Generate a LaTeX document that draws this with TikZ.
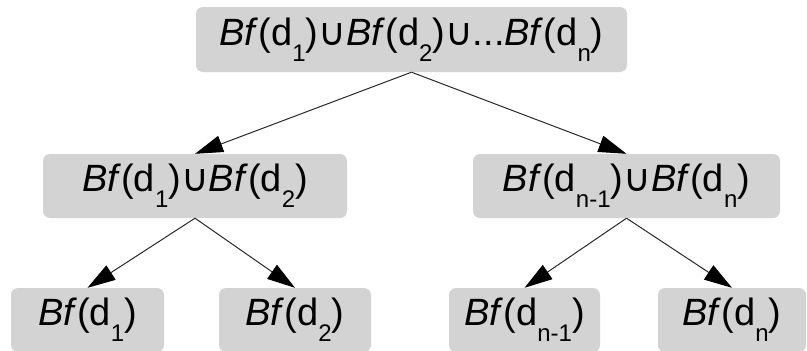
\documentclass[tikz,border=0pt]{standalone}
\usepackage{fontspec}
\setmainfont{Liberation Sans}
\newfontfamily\symf{DejaVu Sans}
\usetikzlibrary{arrows.meta}
\definecolor{boxgray}{RGB}{211,211,211}
\definecolor{linegray}{RGB}{40,40,40}
\newcommand{\sbs}[1]{\raisebox{-0.42em}{\fontsize{24}{24}\selectfont #1}}
\newcommand{\bfd}[1]{\textit{Bf}(d\sbs{#1})}
\newcommand{\un}{{\symf ∪}}
\begin{document}
\begin{tikzpicture}[x=1pt,y=-1pt,
  bx/.style={draw=none,fill=boxgray,rounded corners=7pt,inner sep=0pt,
    font=\fontsize{38}{42}\selectfont,text=black,minimum height=64pt},
  arr/.style={draw=linegray,line width=1pt,-{Triangle[length=28pt,width=17pt,color=black]}}]
\useasboundingbox (0,0) rectangle (807,351);
\node[bx,minimum width=431pt,minimum height=65pt] (top) at (411.5,39.5) {\bfd{1}\un\bfd{2}\un...\bfd{n}};
\node[bx,minimum width=304pt] (m1) at (195,186) {\bfd{1}\un\bfd{2}};
\node[bx,minimum width=307pt] (m2) at (626.5,186) {\bfd{n-1}\un\bfd{n}};
\node[bx,minimum width=153pt] (l1) at (87.5,320) {\bfd{1}};
\node[bx,minimum width=152pt] (l2) at (295,320) {\bfd{2}};
\node[bx,minimum width=151pt] (l3) at (524.5,320) {\bfd{n-1}};
\node[bx,minimum width=148pt] (l4) at (732,320) {\bfd{n}};
\draw[arr] (top.south) -- (m1.north);
\draw[arr] (top.south) -- (m2.north);
\draw[arr] (m1.south) -- (l1.north);
\draw[arr] (m1.south) -- (l2.north);
\draw[arr] (m2.south) -- (l3.north);
\draw[arr] (m2.south) -- (l4.north);
\end{tikzpicture}
\end{document}
